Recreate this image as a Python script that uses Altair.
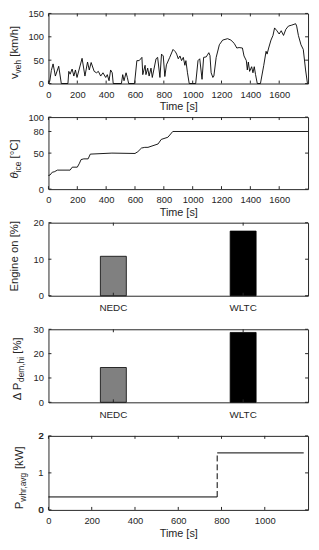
import altair as alt
import pandas as pd

FONT = "Liberation Sans"
AX = "#262626"

# ---- data ----
t_veh = [0, 9, 20, 32, 48, 71, 89, 135, 141, 150, 164, 176, 187, 198, 233, 253, 271, 283, 296,
         317, 333, 346, 362, 378, 397, 408, 420, 431, 442, 449, 506, 515, 524, 538, 547, 556,
         597, 613, 629, 648, 654, 670, 676, 688, 698, 711, 720, 746, 757, 773, 784, 796, 807,
         818, 841, 864, 880, 889, 900, 912, 923, 935, 946, 953, 964, 976, 1021, 1037, 1049,
         1065, 1076, 1094, 1106, 1112, 1120, 1128, 1140, 1147, 1163, 1185, 1208, 1242, 1265,
         1288, 1306, 1322, 1345, 1356, 1372, 1379, 1386, 1395, 1409, 1418, 1427, 1436, 1448,
         1470, 1493, 1509, 1516, 1527, 1543, 1557, 1568, 1584, 1600, 1614, 1630, 1646, 1664,
         1687, 1714, 1721, 1733, 1751, 1767, 1783, 1796, 1800]
v_veh = [0, 5, 28, 42, 16, 37, 0, 0, 26, 20, 31, 16, 29, 13, 54, 16, 46, 29, 45,
         26, 23, 26, 16, 23, 13, 19, 6, 29, 23, 0, 0, 19, 6, 23, 13, 0,
         0, 49, 49, 56, 19, 39, 19, 33, 16, 33, 13, 53, 56, 13, 63, 59, 15,
         40, 56, 73, 68, 63, 53, 59, 49, 56, 39, 49, 23, 0, 0, 49, 53,
         9, 56, 57, 63, 66, 60, 23, 13, 16, 56, 83, 93, 96, 93,
         86, 76, 77, 76, 59, 49, 29, 46, 26, 36, 23, 36, 19, 0,
         0, 39, 69, 63, 76, 93, 103, 119, 113, 106, 113, 103, 116, 123,
         125, 128, 123, 103, 83, 73, 29, 0, 0]

t_ice = [0, 10, 27, 40, 62, 150, 165, 200, 215, 226, 245, 275, 290, 440, 600, 620, 645, 668,
         690, 760, 782, 828, 862, 1800]
theta_ice = [19, 19.5, 23.6, 24, 26.4, 26.4, 30.5, 30.5, 36, 41, 42, 42, 48.6, 50, 49.5, 52,
             57, 58, 58, 62.7, 69, 72, 80, 80]

cycles = ["NEDC", "WLTC"]
engine_on = [10.8, 17.7]
dp_dem_hi = [14.3, 28.7]
bar_colors = ["#808080", "#000000"]

p_seg_start = [0, 780]
p_seg_end = [780, 1180]
p_whr_avg = [0.35, 1.54]

time_ticks_wltc = [0, 200, 400, 600, 800, 1000, 1200, 1400, 1600]
time_ticks_nedc = [0, 200, 400, 600, 800, 1000]
v_ticks = [0, 50, 100, 150]
theta_ticks = [0, 50, 80, 100]
eng_ticks = [0, 10, 20]
dp_ticks = [0, 10, 20, 30]
p_ticks = [0, 1, 2]
p_tick_labels = ["0", "1", "2"]

W = 263
H = [71, 73, 74, 74, 75]
TL = 3  # inner tick length
LPAD = 5  # y label padding

AWID = {"v": .5, "e": .556, "h": .556, " ": .278, "[": .278, "]": .278, "k": .5, "m": .833,
        "/": .278, "θ": .55, "i": .222, "c": .5, "°": .4, "C": .722, "Δ": .668, "P": .667,
        "d": .556, ",": .278, "%": .889, "w": .722, "r": .333, "a": .556, "g": .556,
        "W": .944, "E": .667, "n": .556, "o": .556}


def tw(s, size):
    return sum(AWID.get(c, .556) for c in s) * size


def ytitle(pieces, h, xb, yoff, size=11.5, sub_size=8.5, sub_dx=3):
    total = 0
    for text, kind, gap in pieces:
        fs = sub_size if kind == "s" else size
        total += gap * size + tw(text, fs)
    y = h / 2 + yoff + total / 2
    layers = []
    for text, kind, gap in pieces:
        fs = sub_size if kind == "s" else size
        y -= gap * size
        layers.append(
            alt.Chart(pd.DataFrame({"label": [text]}))
            .mark_text(angle=270, align="left", baseline="alphabetic", font=FONT,
                       fontSize=fs, color=AX,
                       fontStyle="italic" if kind == "mi" else "normal")
            .encode(x=alt.value(xb + (sub_dx if kind == "s" else 0)), y=alt.value(y),
                    text="label:N")
        )
        y -= tw(text, fs)
    return layers


def xaxis(values, title):
    kw = dict(values=values, format="d", domain=False, ticks=False, tickSize=0, grid=False,
              labelPadding=6, labelFontSize=9.5, labelFont=FONT, labelColor=AX,
              labelOverlap=False, labelBound=False, labelFlush=False)
    if title:
        kw.update(title=title, titleFont=FONT, titleFontSize=11, titleFontWeight="normal",
                  titleColor=AX, titlePadding=2)
    else:
        kw.update(title="")
    return alt.Axis(**kw)


def yaxis(values):
    return alt.Axis(values=values, format="d", domain=False, ticks=False, tickSize=0,
                    grid=False, labelPadding=LPAD, labelFontSize=9.5, labelFont=FONT,
                    labelColor=AX, title="", labelOverlap=False, labelBound=False,
                    labelFlush=False)


def qticks_x(vals, scale, h, axis):
    d = pd.DataFrame({"v": vals})
    b = alt.Chart(d).mark_rule(color=AX, strokeWidth=1)
    return [b.encode(x=alt.X("v:Q", scale=scale, axis=axis), y=alt.value(h), y2=alt.value(h - TL)),
            b.encode(x=alt.X("v:Q", scale=scale, axis=axis), y=alt.value(0), y2=alt.value(TL))]


def qticks_y(vals, scale, w, axis):
    d = pd.DataFrame({"y": vals})
    b = alt.Chart(d).mark_rule(color=AX, strokeWidth=1)
    return [b.encode(y=alt.Y("y:Q", scale=scale, axis=axis), x=alt.value(0), x2=alt.value(TL)),
            b.encode(y=alt.Y("y:Q", scale=scale, axis=axis), x=alt.value(w), x2=alt.value(w - TL))]


# ---- panel 1: vehicle speed ----
xs1 = alt.Scale(domain=[0, 1800], nice=False, zero=False)
ys1 = alt.Scale(domain=[0, 150], nice=False)
xa1 = xaxis(time_ticks_wltc, "Time [s]")
ya1 = yaxis(v_ticks)
d1 = pd.DataFrame({"v": t_veh, "y": v_veh})
line1 = alt.Chart(d1).mark_line(color="black", strokeWidth=0.9).encode(
    x=alt.X("v:Q", scale=xs1, axis=xa1),
    y=alt.Y("y:Q", scale=ys1, axis=ya1),
)
p1 = alt.layer(line1, *qticks_x(time_ticks_wltc, xs1, H[0], xa1),
               *qticks_y(v_ticks, ys1, W, ya1),
               *ytitle([("v", "m", 0), ("veh", "s", 0), ("[km/h]", "m", 0.278)], H[0], -31, 4)
               ).properties(width=W, height=H[0])

# ---- panel 2: engine temperature ----
ys2 = alt.Scale(domain=[0, 100], nice=False)
ya2 = yaxis(theta_ticks)
d2 = pd.DataFrame({"v": t_ice, "y": theta_ice})
line2 = alt.Chart(d2).mark_line(color="black", strokeWidth=0.9).encode(
    x=alt.X("v:Q", scale=xs1, axis=xa1),
    y=alt.Y("y:Q", scale=ys2, axis=ya2),
)
p2 = alt.layer(line2, *qticks_x(time_ticks_wltc, xs1, H[1], xa1),
               *qticks_y(theta_ticks, ys2, W, ya2),
               *ytitle([("θ", "mi", 0), ("ice", "s", 0), ("[°C]", "m", 0.278)], H[1], -31, 6)
               ).properties(width=W, height=H[1])


# ---- bar panels ----
def bar_panel(values, yticks, ymax, h, title_pieces, xb, yoff):
    xsb = alt.Scale(domain=cycles, paddingInner=0.8, paddingOuter=0.4)
    ysb = alt.Scale(domain=[0, ymax], nice=False)
    xab = alt.Axis(domain=False, ticks=False, tickSize=0, grid=False, labelAngle=0,
                   labelPadding=7, labelFontSize=10, labelFont=FONT, labelColor=AX,
                   title="", labelOverlap=False)
    yab = yaxis(yticks)
    d = pd.DataFrame({"cycle": cycles, "y": values})
    bars = alt.Chart(d).mark_bar(stroke="black", strokeWidth=0.8).encode(
        x=alt.X("cycle:N", scale=xsb, axis=xab),
        y=alt.Y("y:Q", scale=ysb, axis=yab),
        color=alt.Color("cycle:N", scale=alt.Scale(domain=cycles, range=bar_colors), legend=None),
    )
    dc = pd.DataFrame({"cycle": cycles})
    rb = alt.Chart(dc).mark_rule(color=AX, strokeWidth=1)
    xt = [rb.encode(x=alt.X("cycle:N", scale=xsb, bandPosition=0.5, axis=xab),
                    y=alt.value(h), y2=alt.value(h - TL)),
          rb.encode(x=alt.X("cycle:N", scale=xsb, bandPosition=0.5, axis=xab),
                    y=alt.value(0), y2=alt.value(TL))]
    return alt.layer(bars, *xt, *qticks_y(yticks, ysb, W, yab),
                     *ytitle(title_pieces, h, xb, yoff)).properties(width=W, height=h)


p3 = bar_panel(engine_on, eng_ticks, 20, H[2], [("Engine on [%]", "m", 0)], -31, -3)
p4 = bar_panel(dp_dem_hi, dp_ticks, 30, H[3],
               [("Δ P", "m", 0), ("dem,hi", "s", 0), ("[%]", "m", 0.278)], -28, 3)

# ---- panel 5: average WHR power ----
xs5 = alt.Scale(domain=[0, 1200], nice=False, zero=False)
ys5 = alt.Scale(domain=[0, 2], nice=False)
xa5 = xaxis(time_ticks_nedc, "Time [s]")
ya5 = yaxis(p_ticks)
d5 = pd.DataFrame({"v": p_seg_start, "t1": p_seg_end, "y": p_whr_avg})
seg = alt.Chart(d5).mark_rule(color="black", strokeWidth=1).encode(
    x=alt.X("v:Q", scale=xs5, axis=xa5),
    x2="t1:Q",
    y=alt.Y("y:Q", scale=ys5, axis=ya5),
)
djump = pd.DataFrame({"v": [p_seg_end[0]], "y": [p_whr_avg[0]], "y1": [p_whr_avg[1]]})
jump = alt.Chart(djump).mark_rule(color="black", strokeWidth=1, strokeDash=[6, 3]).encode(
    x=alt.X("v:Q", scale=xs5, axis=xa5), y=alt.Y("y:Q", scale=ys5, axis=ya5), y2="y1:Q")
# tick labels of the power axis drawn as text through the y scale (same place as axis labels)
ylab5 = alt.Chart(pd.DataFrame({"y": p_ticks, "lab": p_tick_labels})).mark_text(
    align="right", baseline="middle", font=FONT, fontSize=9.5, color=AX
).encode(y=alt.Y("y:Q", scale=ys5, axis=ya5), x=alt.value(-LPAD), text="lab:N")
p5 = alt.layer(seg, jump, *qticks_x(time_ticks_nedc, xs5, H[4], xa5),
               *qticks_y(p_ticks, ys5, W, ya5), ylab5,
               *ytitle([("P", "m", 0), ("whr,avg", "s", 0), ("[kW]", "m", 0.278)], H[4], -26, 5)
               ).properties(width=W, height=H[4])

chart = alt.vconcat(p1, p2, p3, p4, p5, spacing=34, bounds="flush").configure(
    padding={"top": -4, "left": 0, "right": 0, "bottom": 0}, background="white"
).configure_view(stroke=AX, strokeWidth=1)

chart.save("out.html", embed_options={"renderer": "svg", "actions": False})
